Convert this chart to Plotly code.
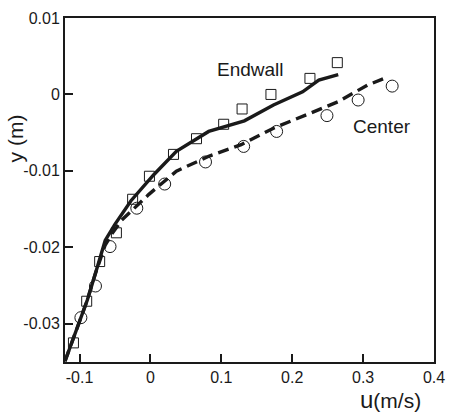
import plotly.graph_objects as go

# Endwall measured (squares)
endwall_u = [-0.1086, -0.0899, -0.0716, -0.048, -0.0251, -0.0014, 0.0325, 0.065, 0.1033, 0.1293, 0.170, 0.225, 0.2636]
endwall_y = [-0.0325, -0.02705, -0.02186, -0.0181, -0.01371, -0.0107, -0.00784, -0.00579, -0.0039, -0.0019, 0.0000, 0.0021, 0.00416]

# Center measured (circles)
center_u = [-0.0981, -0.0775, -0.057, -0.0192, 0.0201, 0.0777, 0.1315, 0.178, 0.249, 0.293, 0.341]
center_y = [-0.0292, -0.02506, -0.0199, -0.01488, -0.01172, -0.00883, -0.0068, -0.00484, -0.00277, -0.00073, 0.00109]

# Endwall computed (solid line)
endwall_line_u = [-0.1205, -0.1004, -0.0890, -0.0775, -0.0638, -0.0501, -0.0274, 0.0047, 0.0366, 0.0822, 0.1325, 0.1736, 0.2147, 0.2375, 0.2649]
endwall_line_y = [-0.0349, -0.0298, -0.0269, -0.0234, -0.0191, -0.0170, -0.0139, -0.0105, -0.00744, -0.00484, -0.00345, -0.00138, 0.00035, 0.00187, 0.0026]

# Center computed (dashed line)
center_line_u = [-0.1205, -0.1004, -0.0890, -0.0775, -0.0638, -0.0548, -0.0411, -0.0022, 0.0366, 0.0822, 0.128, 0.1736, 0.2192, 0.2649, 0.306, 0.3356]
center_line_y = [-0.0349, -0.0298, -0.0269, -0.0234, -0.0197, -0.0183, -0.0165, -0.01307, -0.01004, -0.00809, -0.00657, -0.00442, -0.00268, -0.00095, 0.00122, 0.0023]

x_tickvals = [-0.1, 0, 0.1, 0.2, 0.3, 0.4]
x_ticktext = ["-0.1", "0", "0.1", "0.2", "0.3", "0.4"]
y_tickvals = [0.01, 0, -0.01, -0.02, -0.03]
y_ticktext = ["0.01", "0", "-0.01", "-0.02", "-0.03"]

FONT = "Liberation Sans, Arial, Helvetica, sans-serif"
INK = "#1a1a1a"

fig = go.Figure()
fig.add_trace(go.Scatter(x=center_line_u, y=center_line_y, mode="lines",
                         line=dict(color=INK, width=3.4, dash="11px,6px"), showlegend=False))
fig.add_trace(go.Scatter(x=endwall_line_u, y=endwall_line_y, mode="lines",
                         line=dict(color=INK, width=3.4), showlegend=False))
fig.add_trace(go.Scatter(x=endwall_u, y=endwall_y, mode="markers",
                         marker=dict(symbol="square-open", size=10, color=INK, line=dict(width=1)),
                         showlegend=False))
fig.add_trace(go.Scatter(x=center_u, y=center_y, mode="markers",
                         marker=dict(symbol="circle-open", size=12, color=INK, line=dict(width=1)),
                         showlegend=False))

fig.update_layout(
    width=455, height=414,
    margin=dict(l=65, r=10, t=15, b=52),
    paper_bgcolor="white", plot_bgcolor="white",
    font=dict(family=FONT, color=INK, size=16),
    xaxis=dict(range=[-0.1205, 0.4], tickvals=x_tickvals, ticktext=x_ticktext,
               showgrid=False, zeroline=False, showline=True, linecolor=INK, linewidth=2,
               mirror=True, ticks="inside", ticklen=8, tickwidth=1.5, tickcolor=INK,
               tickfont=dict(size=16, family=FONT, color=INK)),
    yaxis=dict(range=[-0.035, 0.01], tickvals=y_tickvals, ticktext=y_ticktext,
               showgrid=False, zeroline=False, showline=True, linecolor=INK, linewidth=2,
               mirror=True, ticks="inside", ticklen=8, tickwidth=1.5, tickcolor=INK,
               tickfont=dict(size=16, family=FONT, color=INK)),
    annotations=[
        dict(text="Endwall", x=0.141, y=0.0032, xref="x", yref="y", showarrow=False,
             font=dict(size=19, family=FONT, color=INK)),
        dict(text="Center", x=0.326, y=-0.0042, xref="x", yref="y", showarrow=False,
             font=dict(size=19, family=FONT, color=INK)),
        dict(text="y (m)", x=14, y=136, xref="paper", yref="paper", showarrow=False,
             xanchor="center", yanchor="middle",
             textangle=-90, font=dict(size=21, family=FONT, color=INK)),
        dict(text="<span style='font-size:24px'>u</span>(m/s)", x=400, y=400,
             xref="paper", yref="paper", showarrow=False,
             xanchor="center", yanchor="middle",
             font=dict(size=21, family=FONT, color=INK)),
    ],
)

# convert pixel positions of free labels to paper coordinates
pw, ph = 455 - 65 - 10, 414 - 15 - 52
for a in fig.layout.annotations:
    if a.xref == "paper":
        a.x = (a.x - 65) / pw
        a.y = 1 - (a.y - 15) / ph

fig.write_html("out.html")
